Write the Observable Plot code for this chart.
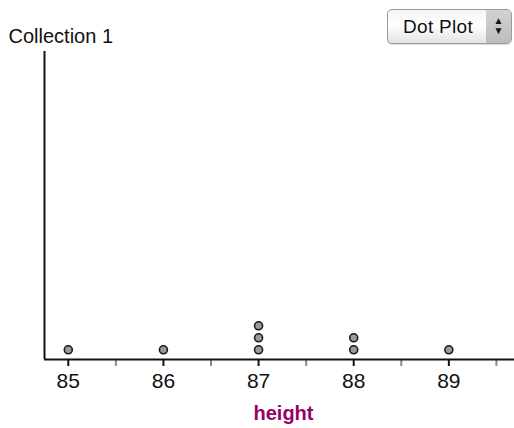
<!DOCTYPE html>
<html>
<head>
<meta charset="utf-8">
<script src="https://cdn.jsdelivr.net/npm/d3@7"></script>
<script src="https://cdn.jsdelivr.net/npm/@observablehq/plot@0.6"></script>
<style>
  html, body { margin: 0; padding: 0; background: #fff; }
  #wrap { position: relative; width: 514px; height: 428px; overflow: hidden; font-family: "Liberation Sans", Arial, sans-serif; }
  #menu {
    position: absolute; left: 387px; top: 9px; width: 123px; height: 33px;
    border: 1px solid #9a9a9a; border-radius: 5px; overflow: hidden;
    background: linear-gradient(#f4f4f4, #ffffff 45%, #e4e4e4);
    box-shadow: 0 1px 1px rgba(0,0,0,0.15);
  }
  #menu .lab { position: absolute; left: 15px; top: 6px; font-size: 19px; color: #111; letter-spacing: 0.3px; }
  #menu .arr { position: absolute; right: 0; top: 0; width: 25px; height: 33px; background: linear-gradient(#d2d2d2, #bcbcbc); text-align: center; font-size: 10px; line-height: 10px; color: #111; padding-top: 6px; box-sizing: border-box; }
</style>
</head>
<body>
<div id="wrap">
  <div id="chart"></div>
  <div id="menu"><span class="lab">Dot Plot</span><div class="arr">▲<br>▼</div></div>
</div>
<script>
const heights = [85, 86, 87, 87, 87, 88, 88, 89];
const majorTicks = [85, 86, 87, 88, 89];
const minorTicks = [85.5, 86.5, 87.5, 88.5, 89.5];
const titleText = "Collection 1";
const xLabel = "height";
const xDomain = [84.75, 89.69];
const yDomain = [0.19, 25.86];

const rows = heights.map(h => ({height: h}));

const chart = Plot.plot({
  width: 514,
  height: 428,
  marginTop: 51,
  marginBottom: 69,
  marginLeft: 44,
  marginRight: 0,
  style: {fontFamily: "'Liberation Sans', Arial, sans-serif", background: "#fff", overflow: "visible"},
  x: {domain: xDomain},
  y: {domain: yDomain},
  marks: [
    Plot.axisX({ticks: minorTicks, tickSize: 7, stroke: "#8a8a8a", strokeWidth: 2, text: null, label: null}),
    Plot.axisX({ticks: majorTicks, tickSize: 7, tickPadding: 7, stroke: "#111", strokeWidth: 2, fontSize: 21, fill: "#111", label: null, tickFormat: d => String(d)}),
    Plot.axisY({ticks: [], label: null}),
    Plot.ruleY([yDomain[0]], {stroke: "#111", strokeWidth: 2}),
    Plot.ruleX([xDomain[0]], {stroke: "#111", strokeWidth: 2}),
    Plot.dot(rows, Plot.stackY2({x: "height", y: d => 1, r: 4, fill: "#9a9a9a", stroke: "#1a1a1a", strokeWidth: 1.6})),
    Plot.text([xLabel], {frameAnchor: "bottom", dx: 4, dy: 54, lineAnchor: "middle", fontSize: 20, fontWeight: "bold", fill: "#990066", style: "letter-spacing:2px"}),
    Plot.text([titleText], {frameAnchor: "top-left", textAnchor: "start", dx: -36, dy: -15, lineAnchor: "middle", fontSize: 20, fill: "#111", style: "letter-spacing:0.3px"})
  ]
});
document.getElementById("chart").appendChild(chart);
</script>
</body>
</html>
